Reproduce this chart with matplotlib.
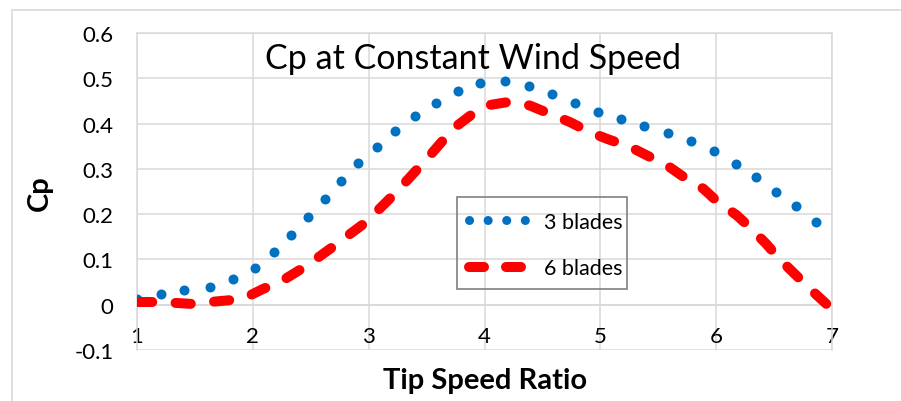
import numpy as np
import matplotlib.pyplot as plt
from matplotlib.lines import Line2D
from matplotlib.patches import Rectangle

# 3 blades (dotted blue)
tsr_3 = [1.0, 1.21, 1.41, 1.63, 1.83, 2.02, 2.18, 2.33, 2.48, 2.62, 2.76, 2.91,
         3.07, 3.23, 3.40, 3.58, 3.77, 3.96, 4.18, 4.38, 4.58, 4.78, 4.98, 5.18,
         5.38, 5.58, 5.78, 5.98, 6.17, 6.34, 6.52, 6.69, 6.86]
cp_3 = [0.013, 0.024, 0.032, 0.040, 0.057, 0.081, 0.116, 0.153, 0.194, 0.234,
        0.274, 0.313, 0.348, 0.383, 0.416, 0.446, 0.472, 0.490, 0.493, 0.484,
        0.466, 0.445, 0.425, 0.409, 0.394, 0.379, 0.361, 0.339, 0.311, 0.282,
        0.250, 0.218, 0.183]

# 6 blades (dashed red)
tsr_6 = [1.0, 1.2, 1.46, 1.8, 1.93, 2.09, 2.26, 2.47, 2.67, 2.98, 3.24, 3.53,
         3.73, 3.88, 4.02, 4.19, 4.39, 4.56, 4.74, 4.91, 5.06, 5.26, 5.40, 5.58,
         5.72, 5.89, 6.00, 6.18, 6.29, 6.43, 6.55, 6.69, 6.81, 6.95]
cp_6 = [0.006, 0.006, 0.002, 0.010, 0.015, 0.035, 0.054, 0.087, 0.124, 0.183,
        0.249, 0.330, 0.389, 0.418, 0.440, 0.447, 0.440, 0.422, 0.403, 0.381,
        0.366, 0.348, 0.330, 0.307, 0.282, 0.256, 0.230, 0.197, 0.171, 0.135,
        0.100, 0.065, 0.035, 0.002]

xticks = [1, 2, 3, 4, 5, 6, 7]
yticks = [-0.1, 0, 0.1, 0.2, 0.3, 0.4, 0.5, 0.6]
ytick_labels = ["-0.1", "0", "0.1", "0.2", "0.3", "0.4", "0.5", "0.6"]

plt.rcParams['font.family'] = ['Lato', 'DejaVu Sans']
grid_col = '#d9d9d9'
blue = '#0070C0'
red = '#FF0000'
W, H = 901, 402

fig = plt.figure(figsize=(9.01, 4.02), dpi=100)
# outer chart border (only left and top visible)
fig.patches.append(Rectangle((12 / W, -0.1), 1.2, 1.1 - 11 / H,
                             transform=fig.transFigure, fill=False,
                             edgecolor=grid_col, linewidth=1.2))

ax = fig.add_axes([137 / W, 1 - 351 / H, (832 - 137) / W, (351 - 34) / H])
ax.set_xlim(1, 7)
ax.set_ylim(-0.1, 0.6)

# dotted series: round dots on the read positions
ax.plot(tsr_3, cp_3, color=blue, linestyle='none', marker='o',
        markersize=7.2, markeredgewidth=0, zorder=3)

# dashed series: stretch the dash pattern so the line ends on a dash
lw6 = 7.2
pts = ax.transData.transform(np.column_stack([tsr_6, cp_6]))
length_px = np.sum(np.hypot(*np.diff(pts, axis=0).T))
px_per_lw = lw6 * 100 / 72
on, off = 1.5, 2.3
n = round((length_px / px_per_lw - on) / (on + off))
k = (length_px / px_per_lw) / (n * (on + off) + on)
ax.plot(tsr_6, cp_6, color=red, linewidth=lw6,
        linestyle=(0, (on * k, off * k)), dash_capstyle='round', zorder=3)

ax.set_xticks(xticks)
ax.set_yticks(yticks)
ax.set_yticklabels(ytick_labels)
ax.grid(True, color=grid_col, linewidth=1.1, zorder=0)
ax.set_axisbelow(True)
for s in ax.spines.values():
    s.set_color(grid_col)
    s.set_linewidth(1.1)
ax.spines['bottom'].set_position(('data', 0))
ax.tick_params(axis='both', length=0, labelsize=16, colors='black')
ax.tick_params(axis='x', pad=15)
ax.tick_params(axis='y', pad=17)

ax.text(0.484, 0.92, 'Cp at Constant Wind Speed', transform=ax.transAxes,
        ha='center', va='center', fontsize=24.5)

fig.text(485 / W, 1 - 381 / H, 'Tip Speed Ratio', ha='center', va='center',
         fontsize=21, fontweight='bold')
fig.text(40 / W, 1 - 193 / H, 'Cp', ha='center', va='center',
         fontsize=21, fontweight='bold', rotation=90)

# legend: frame drawn separately, entries placed inside it
fig.patches.append(Rectangle((457 / W, 1 - 290 / H), 170 / W, 92 / H,
                             transform=fig.transFigure, fill=False,
                             edgecolor='#808080', linewidth=1.2, zorder=5))
handles = [Line2D([], [], color=blue, linewidth=6.5,
                  linestyle=(0, (0.01, 2.05)), dash_capstyle='round'),
           Line2D([], [], color=red, linewidth=lw6,
                  linestyle=(0, (1.5, 2.2)), dash_capstyle='round')]
fs = 15.5
leg = fig.legend(handles, ['3 blades', '6 blades'], loc='upper left',
                 bbox_to_anchor=(469 / W, 1 - 213 / H),
                 fontsize=fs, frameon=False, borderaxespad=0, borderpad=0,
                 handlelength=57.5 / 1.389 / fs, labelspacing=1.22,
                 handletextpad=17.5 / 1.389 / fs)

fig.savefig('out.png', dpi=100)
